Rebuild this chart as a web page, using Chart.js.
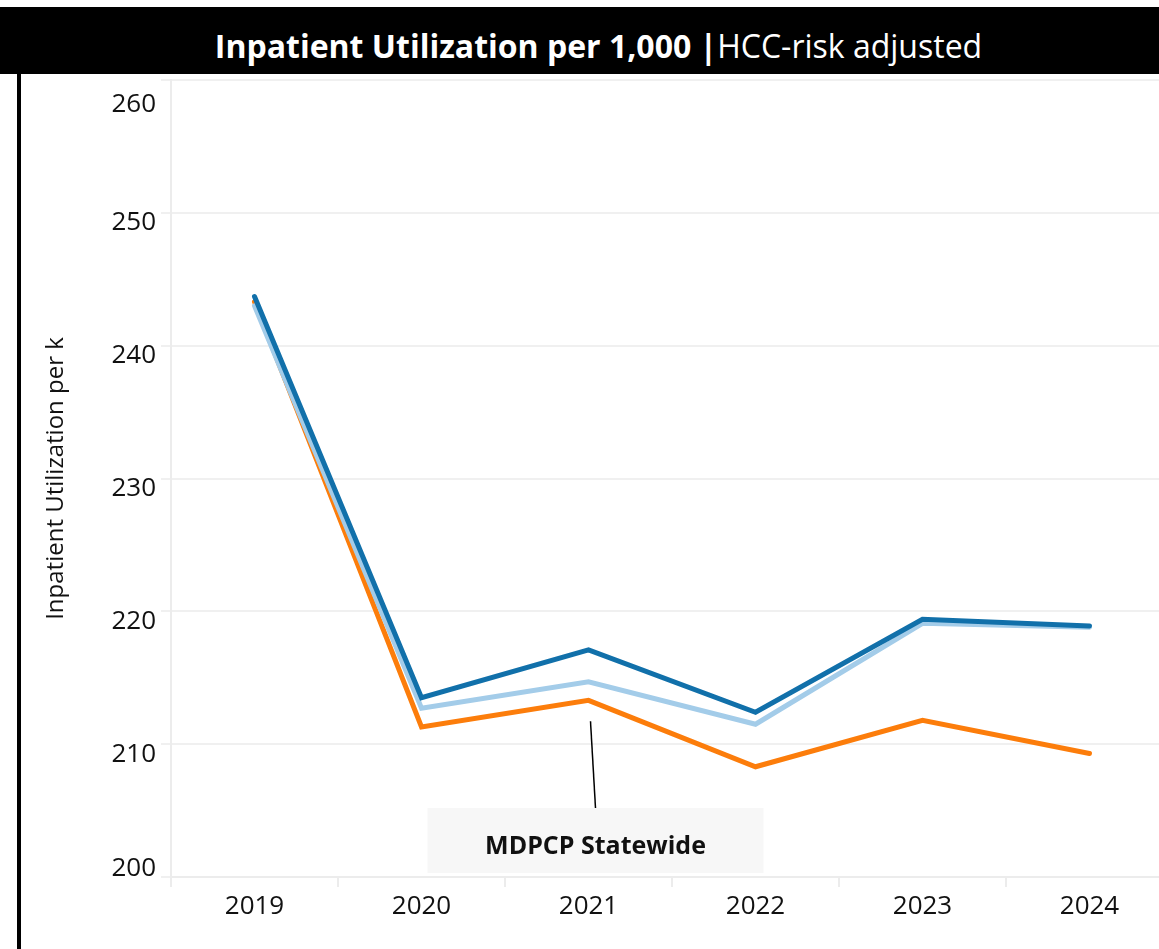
<!DOCTYPE html>
<html>
<head>
<meta charset="utf-8">
<title>Inpatient Utilization per 1,000</title>
<script src="https://cdn.jsdelivr.net/npm/chart.js@4.4.1/dist/chart.umd.min.js"></script>
<style>
    html, body { margin: 0; padding: 0; background: #fff; width: 1159px; height: 949px; overflow: hidden; }
    #title { position: absolute; left: 0; top: 7px; width: 1159px; height: 67px; background: #000; color: #fff;
             font-family: 'Open Sans', sans-serif; font-size: 32px; line-height: 67px; text-align: center;
             padding-left: 38px; box-sizing: border-box; white-space: nowrap; overflow: hidden; z-index: 2; }
    #title span { position: relative; top: 5px; }
    #title b { font-weight: 700; }
    #leftbar { position: absolute; left: 17px; top: 74px; width: 4px; height: 875px; background: #000; z-index: 2; }
    #wrap { position: absolute; left: 0; top: 60px; width: 1173px; height: 889px; }
</style>
</head>
<body>
<div id="title"><span><b>Inpatient Utilization per 1,000 |</b>HCC-risk adjusted</span></div>
<div id="leftbar"></div>
<div id="wrap"><canvas id="chart"></canvas></div>
<script>
// values
const years = ['2019', '2020', '2021', '2022', '2023', '2024'];
const practice = [243.7, 213.5, 217.1, 212.4, 219.4, 218.9];
const peerGroup = [243.0, 212.7, 214.7, 211.5, 219.1, 218.8];
const statewide = [243.3, 211.3, 213.3, 208.3, 211.8, 209.3];
const yTicks = [200, 210, 220, 230, 240, 250, 260];
const calloutYear = '2021';
const calloutText = 'MDPCP Statewide';

const FONT = "'Open Sans', sans-serif";

// the end labels sit inside the range, the rest a bit below their gridline
function yLabelShift(v) {
    if (v === yTicks[0]) return -8;
    if (v === yTicks[yTicks.length - 1]) return 25;
    return 10;
}

const yLabelsPlugin = {
    id: 'yLabels',
    afterDraw(chart) {
        const { ctx, scales: { y } } = chart;
        ctx.save();
        ctx.fillStyle = '#111';
        ctx.font = '26px ' + FONT;
        ctx.textAlign = 'right';
        ctx.textBaseline = 'middle';
        yTicks.forEach(v => {
            ctx.fillText(String(v), y.right - 15, y.getPixelForValue(v) + yLabelShift(v));
        });
        ctx.restore();
    }
};

// grey label box with a leader line to the statewide line
const calloutPlugin = {
    id: 'callout',
    afterDatasetsDraw(chart) {
        const { ctx, scales: { x, y } } = chart;
        const i = years.indexOf(calloutYear);
        const cx = x.getPixelForValue(i);
        const left = x.getPixelForValue(i - 1) + 6;
        const right = x.getPixelForValue(i + 1) + 8;
        const top = y.getPixelForValue(205.2);
        const bottom = y.getPixelForValue(200.3);
        ctx.save();
        ctx.fillStyle = '#f7f7f7';
        ctx.fillRect(left, top, right - left, bottom - top);
        ctx.strokeStyle = '#000';
        ctx.lineWidth = 1.5;
        ctx.beginPath();
        ctx.moveTo(cx + 2, y.getPixelForValue(statewide[i]) + 21);
        ctx.lineTo(cx + 7, top);
        ctx.stroke();
        ctx.fillStyle = '#111';
        ctx.font = "bold 25px " + FONT;
        ctx.textAlign = 'center';
        ctx.textBaseline = 'middle';
        ctx.fillText(calloutText, (left + right) / 2, (top + bottom) / 2 + 6);
        ctx.restore();
    }
};

function lineSet(label, data, color) {
    return {
        label, data,
        borderColor: color, backgroundColor: color,
        borderWidth: 5, pointRadius: 0, tension: 0,
        borderCapStyle: 'round', borderJoinStyle: 'miter'
    };
}

new Chart(document.getElementById('chart'), {
    type: 'line',
    data: {
        labels: years,
        datasets: [
            lineSet('Practice', practice, '#1170aa'),
            lineSet('Peer group', peerGroup, '#a3cce9'),
            lineSet('MDPCP Statewide', statewide, '#fc7d0b')
        ]
    },
    options: {
        responsive: true,
        maintainAspectRatio: false,
        animation: false,
        layout: { padding: { top: 20, left: 0, right: 0, bottom: 0 } },
        plugins: { legend: { display: false }, tooltip: { enabled: false } },
        scales: {
            x: {
                offset: true,
                grid: { offset: true, drawOnChartArea: false, drawTicks: true, tickLength: 10, color: '#ececec', lineWidth: 2 },
                border: { color: '#ececec', width: 2 },
                ticks: { color: '#111', font: { family: FONT, size: 26 }, padding: 4, maxRotation: 0 },
                afterFit(scale) { scale.height = 72; }
            },
            y: {
                min: 200, max: 260,
                afterBuildTicks(scale) { scale.ticks = yTicks.map(v => ({ value: v })); },
                grid: { color: '#f0f0f0', lineWidth: 2, tickLength: 10 },
                border: { color: '#ececec', width: 2 },
                ticks: { display: false },
                title: { display: true, text: 'Inpatient Utilization per k', color: '#111',
                         font: { family: FONT, size: 24 }, padding: { top: 42, bottom: 0 } },
                afterFit(scale) { scale.width = 171; }
            }
        }
    },
    plugins: [calloutPlugin, yLabelsPlugin]
});
</script>
</body>
</html>
